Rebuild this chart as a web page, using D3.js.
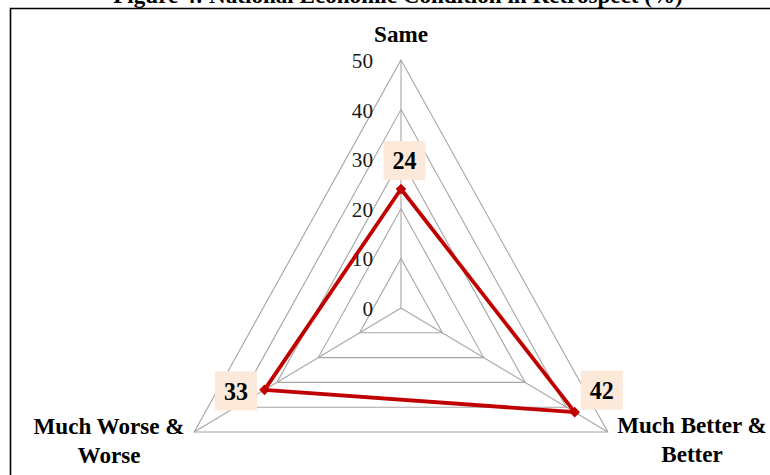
<!DOCTYPE html>
<html>
<head>
<meta charset="utf-8">
<script src="https://cdn.jsdelivr.net/npm/d3@7"></script>
<style>
  html, body { margin: 0; padding: 0; background: #fff; }
  svg { display: block; }
  text { font-family: "Liberation Serif", "Times New Roman", serif; }
</style>
</head>
<body>
<svg id="chart" width="770" height="475"></svg>
<script>
// ---- data ----
const categories = ["Same", "Much Better & Better", "Much Worse & Worse"];
const categoryLines = [["Same"], ["Much Better &", "Better"], ["Much Worse &", "Worse"]];
const values = [24, 42, 33];
const tickValues = [0, 10, 20, 30, 40, 50];
const title = "Figure 4: National Economic Condition in Retrospect (%)";

// ---- layout ----
const W = 770, H = 475;
const cx = 401, cy = 308, R = 248, sx = 0.963;
const svg = d3.select("#chart");

const r = d3.scaleLinear().domain([0, 50]).range([0, R]);
const angle = d3.scalePoint().domain(d3.range(categories.length)).range([0, 2 * Math.PI * (categories.length - 1) / categories.length]);

function pt(i, v) {
  const a = angle(i);
  return [cx + Math.sin(a) * r(v) * sx, cy - Math.cos(a) * r(v)];
}

function sText(g, x, y, str, size, weight, anchor, fill) {
  return g.append("text")
    .attr("transform", `translate(${x},${y}) scale(${sx},1)`)
    .attr("text-anchor", anchor)
    .attr("font-size", size)
    .attr("font-weight", weight)
    .attr("fill", fill || "#000")
    .text(str);
}

// border
svg.append("path")
  .attr("d", `M10.5,${H} V8.5 H${W}`)
  .attr("fill", "none").attr("stroke", "#000").attr("stroke-width", 1.6);

// title (cut at top)
sText(svg, 398, 3, title, 24, "bold", "middle");

// grid triangles
const grid = svg.append("g");
tickValues.filter(t => t > 0).forEach(t => {
  grid.append("path")
    .attr("d", d3.line()(d3.range(categories.length).map(i => pt(i, t))) + "Z")
    .attr("fill", "none").attr("stroke", "#a6a6a6").attr("stroke-width", 1.1);
});
// spokes
d3.range(categories.length).forEach(i => {
  grid.append("line")
    .attr("x1", cx).attr("y1", cy)
    .attr("x2", pt(i, 50)[0]).attr("y2", pt(i, 50)[1])
    .attr("stroke", "#a6a6a6").attr("stroke-width", 1.1);
});

// tick labels
tickValues.forEach(t => {
  sText(svg, 373, cy - r(t) + 8, String(t), 22, "normal", "end", "#1a1a1a");
});

// category labels
const catPos = [
  { x: 401, y: 42 },
  { x: 692, y: 433 },
  { x: 109, y: 434 }
];
categoryLines.forEach((lines, i) => {
  lines.forEach((ln, j) => {
    sText(svg, catPos[i].x, catPos[i].y + j * 28.5, ln, 24, "bold", "middle");
  });
});

// data polygon
const pts = values.map((v, i) => pt(i, v));
svg.append("path")
  .attr("d", d3.line()(pts) + "Z")
  .attr("fill", "none").attr("stroke", "#c00000").attr("stroke-width", 3.8)
  .attr("stroke-linejoin", "round");

// markers (diamonds)
svg.selectAll(".mk").data(pts).join("path")
  .attr("class", "mk")
  .attr("transform", d => `translate(${d[0]},${d[1]}) rotate(45)`)
  .attr("d", d3.symbol().type(d3.symbolSquare).size(56))
  .attr("fill", "#c00000");

// data labels
const labelOff = [[3.5, -28.5], [27, -22], [-28.5, 1]];
values.forEach((v, i) => {
  const [x, y] = pts[i];
  const lx = x + labelOff[i][0], ly = y + labelOff[i][1];
  svg.append("rect")
    .attr("x", lx - 21).attr("y", ly - 19.5)
    .attr("width", 42).attr("height", 39)
    .attr("fill", "#fde9d9");
  sText(svg, lx, ly + 9, String(v), 25, "bold", "middle");
});
</script>
</body>
</html>
